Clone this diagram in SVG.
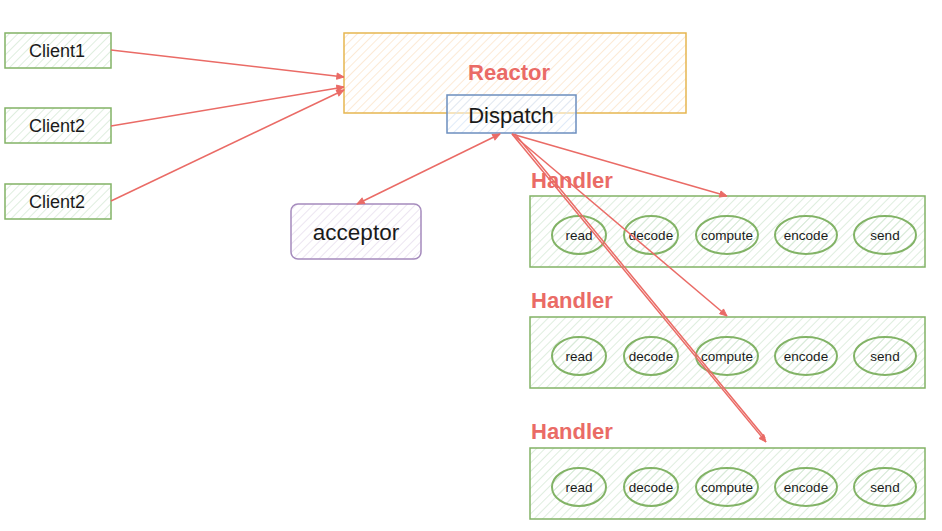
<svg xmlns="http://www.w3.org/2000/svg" width="942" height="531" viewBox="0 0 942 531">
<defs>
<pattern id="hG" width="6" height="6" patternUnits="userSpaceOnUse" patternTransform="rotate(45)"><line x1="0" y1="0" x2="0" y2="6" stroke="#d5e8d4" stroke-width="1.5"/></pattern>
<pattern id="hO" width="6" height="6" patternUnits="userSpaceOnUse" patternTransform="rotate(45)"><line x1="0" y1="0" x2="0" y2="6" stroke="#fbe3c8" stroke-width="1.5"/></pattern>
<pattern id="hB" width="6" height="6" patternUnits="userSpaceOnUse" patternTransform="rotate(45)"><line x1="0" y1="0" x2="0" y2="6" stroke="#d6e4f7" stroke-width="1.5"/></pattern>
<pattern id="hP" width="6" height="6" patternUnits="userSpaceOnUse" patternTransform="rotate(45)"><line x1="0" y1="0" x2="0" y2="6" stroke="#e6dcec" stroke-width="1.5"/></pattern>
<marker id="arr" viewBox="0 0 10 10" refX="9" refY="5" markerWidth="9" markerHeight="9" orient="auto-start-reverse" markerUnits="userSpaceOnUse"><path d="M1,1.5 L9,5 L1,8.5 Z" fill="#ea6b66" stroke="#ea6b66" stroke-width="1"/></marker>
</defs>
<style>
.t{font-family:"Liberation Sans",Arial,sans-serif;fill:#1a1a1a;text-anchor:middle;dominant-baseline:central}
.h{font-family:"Liberation Sans",Arial,sans-serif;fill:#ea6b66;font-weight:bold;font-size:22px}
.g{fill:url(#hG);stroke:#82b366;stroke-width:1.5}
.ge{fill:url(#hG);stroke:#82b366;stroke-width:2}
.c{fill:none;stroke:#ea6b66;stroke-width:1.5}
</style>
<rect width="942" height="531" fill="#ffffff"/>
<g id="client1"><rect class="g" x="5" y="33" width="106" height="35"/><text class="t" x="57" y="51" font-size="18">Client1</text></g>
<g id="client2"><rect class="g" x="5" y="108" width="106" height="35"/><text class="t" x="57" y="126" font-size="18">Client2</text></g>
<g id="client3"><rect class="g" x="5" y="184" width="106" height="35"/><text class="t" x="57" y="202" font-size="18">Client2</text></g>
<g id="reactor"><rect x="344" y="33" width="342" height="80" fill="url(#hO)" stroke="#e6b650" stroke-width="1.5"/><text class="h" x="509" y="80" text-anchor="middle">Reactor</text></g>
<g id="dispatch"><rect x="447" y="95" width="129" height="38" fill="#ffffff" fill-opacity="0.5" stroke="none"/><rect x="447" y="95" width="129" height="38" fill="url(#hB)" stroke="#6c8ebf" stroke-width="1.5"/><text class="t" x="511" y="115" font-size="22">Dispatch</text></g>
<g id="acceptor"><rect x="291" y="204" width="130" height="55" rx="7" fill="url(#hP)" stroke="#a58bbd" stroke-width="1.5"/><text class="t" x="356" y="232" font-size="22.5">acceptor</text></g>
<g id="handler1">
<text class="h" x="531" y="188">Handler</text>
<rect class="g" x="530" y="196" width="395" height="71"/>
<ellipse class="ge" cx="579" cy="235" rx="27" ry="19"/><text class="t" x="579" y="235" font-size="13.5">read</text>
<ellipse class="ge" cx="651" cy="235" rx="27" ry="19"/><text class="t" x="651" y="235" font-size="13.5">decode</text>
<ellipse class="ge" cx="727" cy="235" rx="31" ry="19"/><text class="t" x="727" y="235" font-size="13.5">compute</text>
<ellipse class="ge" cx="806" cy="235" rx="31" ry="19"/><text class="t" x="806" y="235" font-size="13.5">encode</text>
<ellipse class="ge" cx="885" cy="235" rx="31" ry="19"/><text class="t" x="885" y="235" font-size="13.5">send</text>
</g>
<g id="handler2">
<text class="h" x="531" y="308">Handler</text>
<rect class="g" x="530" y="317" width="395" height="71"/>
<ellipse class="ge" cx="579" cy="356" rx="27" ry="19"/><text class="t" x="579" y="356" font-size="13.5">read</text>
<ellipse class="ge" cx="651" cy="356" rx="27" ry="19"/><text class="t" x="651" y="356" font-size="13.5">decode</text>
<ellipse class="ge" cx="727" cy="356" rx="31" ry="19"/><text class="t" x="727" y="356" font-size="13.5">compute</text>
<ellipse class="ge" cx="806" cy="356" rx="31" ry="19"/><text class="t" x="806" y="356" font-size="13.5">encode</text>
<ellipse class="ge" cx="885" cy="356" rx="31" ry="19"/><text class="t" x="885" y="356" font-size="13.5">send</text>
</g>
<g id="handler3">
<text class="h" x="531" y="439">Handler</text>
<rect class="g" x="530" y="448" width="395" height="71"/>
<ellipse class="ge" cx="579" cy="487" rx="27" ry="19"/><text class="t" x="579" y="487" font-size="13.5">read</text>
<ellipse class="ge" cx="651" cy="487" rx="27" ry="19"/><text class="t" x="651" y="487" font-size="13.5">decode</text>
<ellipse class="ge" cx="727" cy="487" rx="31" ry="19"/><text class="t" x="727" y="487" font-size="13.5">compute</text>
<ellipse class="ge" cx="806" cy="487" rx="31" ry="19"/><text class="t" x="806" y="487" font-size="13.5">encode</text>
<ellipse class="ge" cx="885" cy="487" rx="31" ry="19"/><text class="t" x="885" y="487" font-size="13.5">send</text>
</g>
<g id="connectors">
<line class="c" x1="111" y1="50" x2="344" y2="77" marker-end="url(#arr)"/>
<line class="c" x1="111" y1="126" x2="344" y2="87" marker-end="url(#arr)"/>
<line class="c" x1="111" y1="201" x2="344" y2="90" marker-end="url(#arr)"/>
<line class="c" x1="500" y1="134" x2="357" y2="204" marker-start="url(#arr)" marker-end="url(#arr)"/>
<line class="c" x1="512" y1="134" x2="727" y2="196" marker-end="url(#arr)"/>
<line class="c" x1="512" y1="134" x2="727" y2="316" marker-end="url(#arr)"/>
<line class="c" x1="512" y1="134" x2="766" y2="442" marker-end="url(#arr)"/>
<line class="c" x1="515" y1="134" x2="765" y2="438" stroke-width="1"/>
</g>
</svg>
